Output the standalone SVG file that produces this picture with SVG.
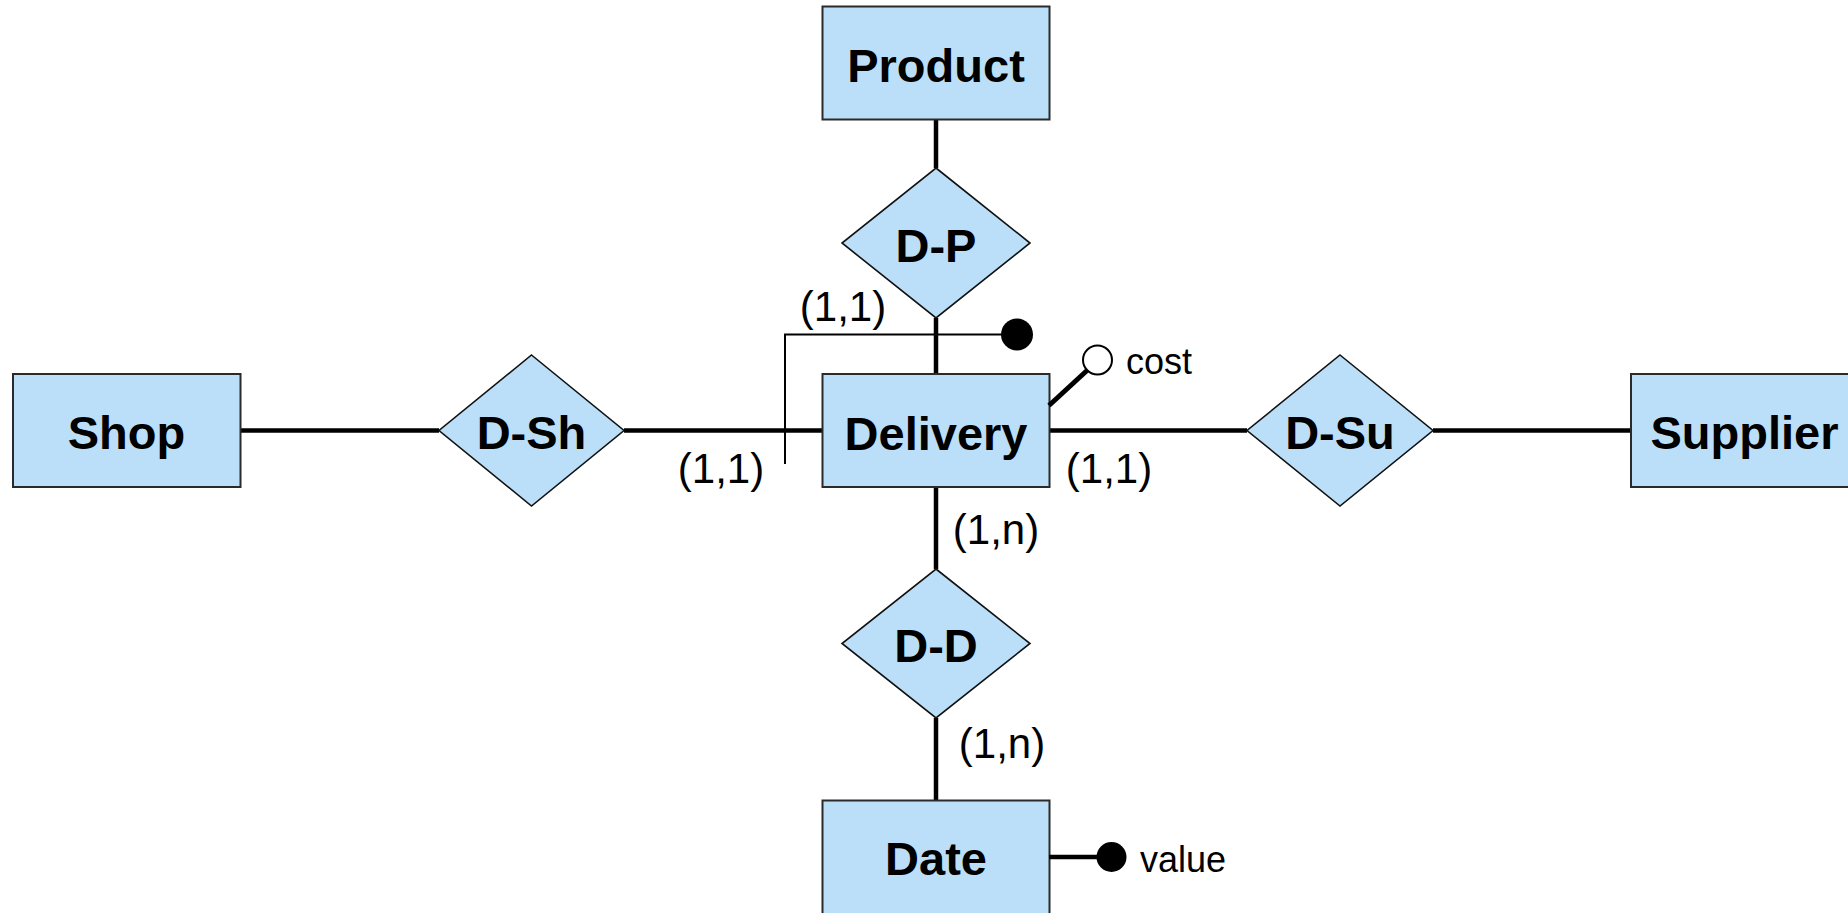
<svg xmlns="http://www.w3.org/2000/svg" width="1848" height="913" viewBox="0 0 1848 913">
<style>
.ent{fill:#BBDFF8;stroke:#2a2a2a;stroke-width:2}
.rel{fill:#BBDFF8;stroke:#111;stroke-width:1.6}
.lbl{font-family:"Liberation Sans",Arial,sans-serif;font-weight:bold;font-size:47px;fill:#000;text-anchor:middle}
.card{font-family:"Liberation Sans",Arial,sans-serif;font-size:42px;fill:#000;text-anchor:middle}
.attr{font-family:"Liberation Sans",Arial,sans-serif;font-size:36px;fill:#000}
.conn{stroke:#000;stroke-width:4.5;fill:none}
.thin{stroke:#000;stroke-width:2;fill:none}
</style>
<rect width="1848" height="913" fill="#fff"/>
<g id="connectors">
<line class="conn" x1="936" y1="120" x2="936" y2="168"/>
<line class="conn" x1="936" y1="318" x2="936" y2="374"/>
<line class="conn" x1="240" y1="430.5" x2="439" y2="430.5"/>
<line class="conn" x1="624" y1="430.5" x2="823" y2="430.5"/>
<line class="conn" x1="1049" y1="430.5" x2="1247" y2="430.5"/>
<line class="conn" x1="1433" y1="430.5" x2="1631" y2="430.5"/>
<line class="conn" x1="936" y1="487" x2="936" y2="569"/>
<line class="conn" x1="936" y1="718" x2="936" y2="800"/>
</g>
<g id="identifier">
<polyline class="thin" points="785,464 785,334.5 1017,334.5"/>
<circle cx="1017" cy="334.5" r="16" fill="#000"/>
</g>
<g id="Product">
<rect class="ent" x="822.5" y="6.5" width="227" height="113"/>
<text class="lbl" x="936" y="81.5">Product</text>
</g>
<g id="D-P">
<polygon class="rel" points="936,168 1030,243 936,318 842,243"/>
<text class="lbl" x="936" y="261.5">D-P</text>
</g>
<g id="Shop">
<rect class="ent" x="13" y="374" width="227.5" height="113"/>
<text class="lbl" x="126.5" y="449">Shop</text>
</g>
<g id="D-Sh">
<polygon class="rel" points="531.5,355 624,430.5 531.5,506 439,430.5"/>
<text class="lbl" x="531.5" y="449">D-Sh</text>
</g>
<g id="Delivery">
<rect class="ent" x="822.5" y="374" width="227" height="113"/>
<text class="lbl" x="936" y="449.5">Delivery</text>
</g>
<g id="cost-attr">
<line x1="1049" y1="405.5" x2="1087" y2="370.5" stroke="#000" stroke-width="5"/>
<circle cx="1097.5" cy="360" r="14.5" fill="#fff" stroke="#000" stroke-width="2"/>
<text class="attr" x="1126" y="374">cost</text>
</g>
<g id="D-Su">
<polygon class="rel" points="1340,355 1433,430.5 1340,506 1247,430.5"/>
<text class="lbl" x="1340" y="449">D-Su</text>
</g>
<g id="Supplier">
<rect class="ent" x="1631" y="374" width="227" height="113"/>
<text class="lbl" x="1744.5" y="449">Supplier</text>
</g>
<g id="D-D">
<polygon class="rel" points="936,569 1030,643.5 936,718 842,643.5"/>
<text class="lbl" x="936" y="661.5">D-D</text>
</g>
<g id="Date">
<rect class="ent" x="822.5" y="800.5" width="227" height="114"/>
<text class="lbl" x="936" y="875">Date</text>
</g>
<g id="value-attr">
<line x1="1049" y1="857" x2="1100" y2="857" stroke="#000" stroke-width="4.5"/>
<circle cx="1111.5" cy="857" r="15" fill="#000"/>
<text class="attr" x="1140" y="872">value</text>
</g>
<g id="cardinalities">
<text class="card" x="843" y="321">(1,1)</text>
<text class="card" x="721" y="483">(1,1)</text>
<text class="card" x="1109" y="483">(1,1)</text>
<text class="card" x="996" y="544">(1,n)</text>
<text class="card" x="1002" y="758">(1,n)</text>
</g>
</svg>
